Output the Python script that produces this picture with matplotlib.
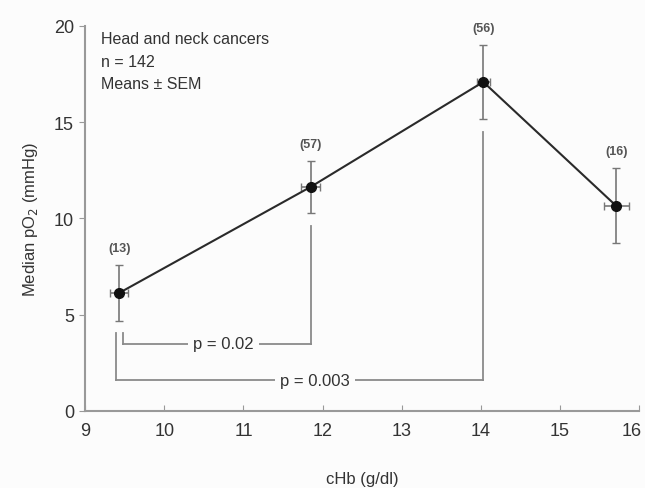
import matplotlib
matplotlib.use("Agg")
import matplotlib.pyplot as plt
from matplotlib.transforms import ScaledTranslation

plt.rcParams['font.family'] = ['Liberation Sans', 'DejaVu Sans']

# Data
chb = [9.43, 11.85, 14.03, 15.71]
chb_sem = [0.11, 0.12, 0.08, 0.16]
po2 = [6.13, 11.64, 17.09, 10.65]
po2_sem = [1.45, 1.35, 1.92, 1.95]
n_labels = ["(13)", "(57)", "(56)", "(16)"]

# Significance brackets: (x_left, x_right, y_left_top, y_right_top, y_bar, text, text_x)
brackets = [
    (9.48, 11.85, 4.05, 9.6, 3.48, "p = 0.02", 10.75),
    (9.39, 14.03, 4.05, 14.5, 1.6, "p = 0.003", 11.9),
]

fig = plt.figure(figsize=(6.45, 4.89), dpi=100)
fig.patch.set_facecolor('#fcfcfc')
ax = fig.add_axes([0.132, 0.1575, 0.859, 0.7875])
ax.set_facecolor('#fcfcfc')

gray = '#8a8a8a'
ax.errorbar(chb, po2, xerr=chb_sem, yerr=po2_sem, fmt='none', ecolor='#777777',
            elinewidth=1.2, capsize=3, capthick=1.0, zorder=2)
ax.plot(chb, po2, color='#2a2a2a', lw=1.5, marker='o', ms=7, mfc='#111111',
        mec='#111111', zorder=3)

for x, y, e, lab in zip(chb, po2, po2_sem, n_labels):
    ax.annotate(lab, (x, y + e), xytext=(0, 8), textcoords='offset points',
                ha='center', va='bottom', fontsize=9, fontweight='bold', color='#555555')

for xl, xr, yl, yr, yb, txt, tx in brackets:
    ax.plot([xl, xl], [yl, yb], color=gray, lw=1.3, zorder=1)
    ax.plot([xr, xr], [yr, yb], color=gray, lw=1.3, zorder=1)
    ax.text(tx, yb, txt, ha='center', va='center', fontsize=12, color='#333333',
            bbox=dict(boxstyle='square,pad=0.3', fc='#fcfcfc', ec='none'), zorder=2)
    ax.plot([xl, xr], [yb, yb], color=gray, lw=1.3, zorder=1)

ax.text(9.2, 19.75, "Head and neck cancers\nn = 142\nMeans \u00b1 SEM", ha='left', va='top',
        fontsize=11.5, color='#333333', linespacing=1.65)

ax.set_xlim(9, 16)
ax.set_ylim(0, 20)
ax.set_xticks(range(9, 17))
ax.set_yticks([0, 5, 10, 15, 20])
for s in ['top', 'right']:
    ax.spines[s].set_visible(False)
for s in ['left', 'bottom']:
    ax.spines[s].set_color('#999999')
    ax.spines[s].set_linewidth(1.5)
ax.tick_params(axis='x', direction='in', length=4, color='#999999', labelsize=13,
               labelcolor='#333333', pad=8)
ax.tick_params(axis='y', direction='out', length=4, color='#999999', labelsize=13,
               labelcolor='#333333', pad=4)

ax.set_xlabel("cHb (g/dl)", fontsize=12, color='#333333', labelpad=23)
ax.set_ylabel("Median pO$_2$ (mmHg)", fontsize=12, color='#333333', labelpad=10)

fig.canvas.draw()
last = ax.get_xticklabels()[-1]
last.set_transform(last.get_transform() + ScaledTranslation(-8 / 100, 0, fig.dpi_scale_trans))

fig.savefig("out.png", dpi=100, facecolor=fig.get_facecolor())
